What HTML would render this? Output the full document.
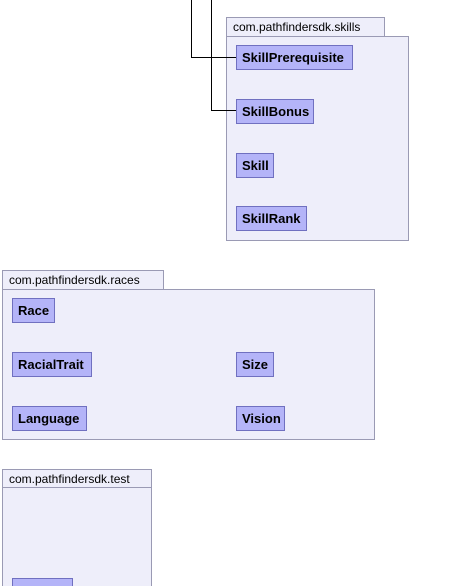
<!DOCTYPE html>
<html style="overflow:hidden;width:471px;height:586px"><head><style>
body{margin:0;width:471px;height:586px;background:#fff;position:relative;overflow:hidden;font-family:"Liberation Sans",sans-serif}
.tab,.pk,.c{position:absolute;box-sizing:border-box}
.tab{background:#eeeefa;border:1px solid #9a9ab4;border-bottom:none;font-size:12px;padding:2px 0 0 6px;color:#000}
.pk{background:#eeeefa;border:1px solid #9a9ab4}
.c{background:#b4b4f8;border:1px solid #7070c0;font-weight:bold;font-size:13px;padding:4px 0 0 5px;height:25px}
.l{position:absolute;background:#000}
</style></head><body>
<div class="tab" style="left:226px;top:17px;width:159px;height:20px">com.pathfindersdk.skills</div>
<div class="pk" style="left:226px;top:36px;width:183px;height:205px"></div>
<div class="l" style="left:191px;top:0;width:1px;height:58px"></div>
<div class="l" style="left:191px;top:57px;width:45px;height:1px"></div>
<div class="l" style="left:211px;top:0;width:1px;height:111px"></div>
<div class="l" style="left:211px;top:110px;width:25px;height:1px"></div>
<div class="c" style="left:236px;top:45px;width:117px">SkillPrerequisite</div>
<div class="c" style="left:236px;top:99px;width:78px">SkillBonus</div>
<div class="c" style="left:236px;top:153px;width:38px">Skill</div>
<div class="c" style="left:236px;top:206px;width:71px">SkillRank</div>

<div class="tab" style="left:2px;top:270px;width:162px;height:20px">com.pathfindersdk.races</div>
<div class="pk" style="left:2px;top:289px;width:373px;height:151px"></div>
<div class="c" style="left:12px;top:298px;width:43px">Race</div>
<div class="c" style="left:12px;top:352px;width:80px">RacialTrait</div>
<div class="c" style="left:236px;top:352px;width:38px">Size</div>
<div class="c" style="left:12px;top:406px;width:75px">Language</div>
<div class="c" style="left:236px;top:406px;width:49px">Vision</div>

<div class="tab" style="left:2px;top:469px;width:150px;height:19px">com.pathfindersdk.test</div>
<div class="pk" style="left:2px;top:487px;width:150px;height:99px;border-bottom:none"></div>
<div class="c" style="left:12px;top:578px;width:61px;height:8px;border-bottom:none">Test</div>
</body></html>
